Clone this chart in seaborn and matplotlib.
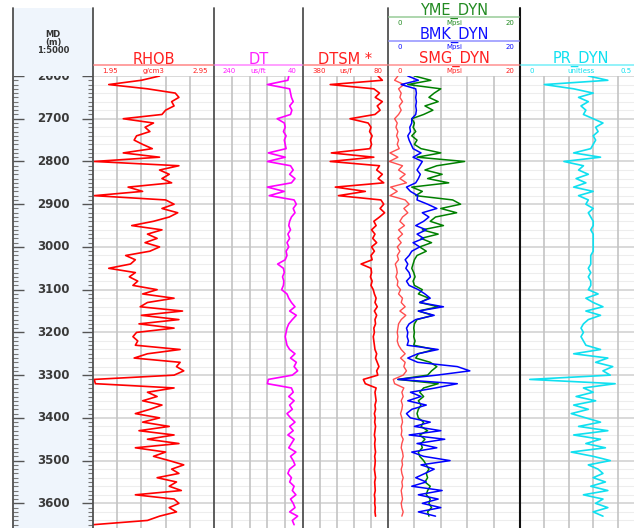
import numpy as np
import pandas as pd
import matplotlib
matplotlib.use("Agg")
import matplotlib.pyplot as plt
import seaborn as sns

sns.set_theme(style="white")
plt.rcParams["font.family"] = ["DejaVu Sans"]

nan = np.nan
depth = np.arange(2600, 3651, 10)

rhob = [2.50, 2.35, 2.08, 2.40, 2.63, 2.66, 2.60, 2.62, 2.55, 2.52,
        2.20, 2.45, 2.38, 2.42, 2.31, 2.29, 2.36, 2.44, 2.20, 2.50,
        1.96, 2.66, 2.50, 2.58, 2.52, 2.60, 2.24, 2.36, 1.96, 2.55,
        2.62, 2.52, 2.65, 2.58, 2.45, 2.27, 2.52, 2.40, 2.48, 2.38,
        2.50, 2.42, 2.22, 2.30, 2.26, 2.08, 2.30, 2.25, 2.32, 2.28,
        2.48, 2.36, 2.62, 2.40, 2.34, 2.69, 2.35, 2.66, 2.33, 2.62,
        2.31, 2.28, 2.32, 2.30, 2.67, 2.40, 2.29, 2.67, 2.64, 2.70,
        2.62, 1.96, 1.97, 2.62, 2.40, 2.48, 2.36, 2.52, 2.42, 2.30,
        2.50, 2.36, 2.58, 2.33, 2.62, 2.40, 2.66, 2.30, 2.55, 2.45,
        2.58, 2.70, 2.60, 2.66, 2.48, 2.64, 2.58, 2.68, 2.30, 2.62,
        2.66, 2.58, 2.64, 2.50, 2.40, 1.95]

dt = [72, 74, 120, 70, 68, 66, 62, 70, 65, 68,
      98, 82, 80, 84, 78, 82, 80, 78, 118, 80,
      120, 68, 62, 70, 58, 66, 120, 82, 116, 60,
      55, 62, 58, 66, 70, 72, 68, 74, 70, 76,
      72, 78, 76, 80, 97, 84, 82, 86, 83, 84,
      88, 76, 72, 66, 58, 70, 55, 64, 72, 76,
      78, 80, 78, 76, 70, 58, 68, 55, 60, 52,
      64, 118, 120, 66, 62, 72, 60, 70, 64, 76,
      68, 58, 70, 62, 74, 60, 66, 72, 56, 68,
      62, 58, 70, 74, 66, 70, 60, 64, 56, 68,
      62, 58, 70, 52, 64, 60]

dtsm = [115, 100, 284, 130, 110, 125, 100, 118, 108, 126,
        214, 150, 140, 145, 136, 142, 138, 144, 280, 130,
        284, 110, 120, 100, 115, 95, 266, 160, 255, 105,
        95, 108, 92, 110, 130, 122, 138, 126, 134, 120,
        138, 128, 140, 136, 175, 140, 138, 142, 136, 140,
        132, 128, 122, 126, 118, 128, 120, 126, 124, 130,
        128, 132, 130, 128, 126, 120, 124, 118, 112, 120,
        116, 167, 160, 122, 126, 124, 122, 126, 124, 128,
        125, 127, 124, 126, 128, 125, 127, 126, 124, 127,
        125, 126, 128, 126, 124, 127, 126, 125, 128, 126,
        127, 125, 126, 124, nan, nan]

smg = [1.5, 1.0, 2.4, 1.6, 2.0, 1.8, 2.2, 1.7, 2.0, 1.6,
       1.0, 1.4, 1.2, 1.5, 1.3, 1.6, 1.4, 1.7, 0.3, 1.5,
       0.2, 2.2, 1.6, 2.6, 1.8, 2.8, 0.4, 1.4, 0.3, 2.6,
       3.2, 2.4, 3.0, 2.2, 1.8, 2.5, 1.6, 2.2, 1.5, 2.0,
       1.4, 1.8, 1.4, 1.6, 1.1, 1.3, 1.4, 1.2, 1.5, 1.4,
       1.9, 1.6, 2.2, 2.0, 2.6, 1.8, 2.7, 2.0, 1.6, 1.5,
       1.4, 1.5, 1.4, 1.6, 2.0, 2.6, 1.9, 2.6, 2.4, 2.8,
       2.3, 0.8, 1.0, 2.4, 2.1, 2.3, 2.0, 2.2, 2.1, 1.9,
       2.1, 2.2, 2.0, 2.1, 2.0, 2.3, 2.1, 2.0, 2.2, 2.3,
       2.1, 2.2, 2.0, 2.1, 2.3, 2.1, 2.2, 2.0, 2.1, 2.2,
       2.0, 2.1, 2.3, 2.1, nan, nan]

bmk = [3.0, 4.6, 2.0, 4.2, 4.3, 4.2, 4.3, 4.2, 4.3, 4.2,
       3.6, 3.6, 3.3, 3.4, 3.0, 3.2, 3.5, 3.8, 5.0, 3.8,
       5.2, 4.8, 4.4, 4.9, 4.6, 4.2, 2.8, 3.4, 4.5, 4.4,
       6.0, 7.4, 5.2, 6.2, 5.4, 4.2, 5.8, 4.4, 5.4, 3.8,
       4.8, 3.6, 3.2, 2.6, 3.0, 2.7, 3.2, 3.4, 2.8, 3.2,
       4.6, 5.6, 6.4, 4.8, 8.4, 4.6, 7.0, 4.2, 3.2, 2.8,
       3.0, 2.9, 3.1, 2.9, 7.6, 4.5, 3.0, 4.5, 10.5, 12.4,
       7.4, 1.5, 10.5, 7.2, 3.4, 5.0, 3.0, 5.8, 3.6, 2.8,
       3.4, 6.4, 4.0, 8.0, 3.2, 8.6, 4.4, 7.4, 3.6, 5.4,
       9.4, 5.0, 7.0, 5.6, 4.2, 5.8, 3.6, 8.2, 4.6, 7.6,
       5.2, 8.0, 4.6, 7.2, nan, nan]

yme = [4.0, 6.5, 3.0, 8.0, 7.0, 6.2, 7.6, 5.6, 6.8, 5.4,
       3.6, 4.0, 3.8, 4.2, 3.6, 4.4, 4.0, 5.0, 8.0, 4.4,
       11.6, 7.4, 5.6, 8.2, 6.0, 9.2, 3.6, 5.2, 4.2, 9.8,
       11.0, 8.0, 10.4, 7.2, 6.4, 8.4, 5.2, 7.6, 5.0, 6.6,
       4.8, 5.8, 4.4, 4.0, 3.8, 3.6, 3.9, 4.1, 3.8, 4.0,
       5.2, 4.6, 6.2, 4.8, 7.6, 4.6, 6.8, 4.4, 4.0, 3.9,
       4.0, 3.9, 4.1, 3.9, 7.0, 4.6, 4.2, 6.4, 7.4, 6.6,
       6.0, 1.5, 7.6, 5.4, 4.8, 5.4, 4.6, 5.0, 4.6, 4.4,
       4.6, 5.4, 5.0, 6.0, 4.8, 5.6, 5.0, 5.2, 4.6, 4.8,
       5.4, 5.8, 6.2, 5.8, 6.0, 5.6, 6.4, 6.0, 5.8, 6.4,
       6.2, 6.6, 6.0, 6.2, nan, nan]

pr = [0.28, 0.36, 0.10, 0.22, 0.30, 0.24, 0.28, 0.25, 0.27, 0.26,
      0.30, 0.34, 0.31, 0.32, 0.30, 0.31, 0.30, 0.29, 0.22, 0.33,
      0.18, 0.26, 0.24, 0.28, 0.23, 0.27, 0.22, 0.30, 0.24, 0.28,
      0.27, 0.30, 0.28, 0.29, 0.30, 0.30, 0.29, 0.30, 0.30, 0.30,
      0.30, 0.30, 0.29, 0.29, 0.29, 0.28, 0.29, 0.28, 0.29, 0.29,
      0.28, 0.32, 0.27, 0.30, 0.34, 0.27, 0.33, 0.28, 0.26, 0.25,
      0.26, 0.25, 0.26, 0.27, 0.33, 0.22, 0.36, 0.31, 0.38, 0.34,
      0.37, 0.04, 0.39, 0.26, 0.30, 0.23, 0.31, 0.22, 0.28, 0.21,
      0.27, 0.33, 0.24, 0.36, 0.22, 0.33, 0.27, 0.35, 0.21, 0.30,
      0.37, 0.28, 0.32, 0.34, 0.30, 0.35, 0.29, 0.36, 0.26, 0.34,
      0.31, 0.36, 0.30, 0.34, nan, nan]

df = pd.DataFrame({"DEPTH": depth, "RHOB": rhob, "DT": dt, "DTSM": dtsm,
                   "SMG": smg, "BMK": bmk, "YME": yme, "PR": pr})

W, H = 634, 528
TOP = 76          # pixel row where tracks start
D_TOP, D_BOT = 2600, 3657.7

fig = plt.figure(figsize=(W / 100, H / 100), dpi=100)
fig.patch.set_facecolor("white")

def px_axes(x0, x1):
    return fig.add_axes([x0 / W, 0, (x1 - x0) / W, (H - TOP) / H])

def style_track(ax, xlim, xgrid):
    ax.set_xlim(*xlim)
    ax.set_ylim(D_BOT, D_TOP)
    ax.set_facecolor("white")
    for d in range(2600, 3660, 20):
        major = d % 100 == 0
        ax.axhline(d, color="#cfcfcf" if major else "#ededed",
                   lw=1.1 if major else 0.8, zorder=0)
    for g in xgrid:
        ax.axvline(g, color="#c4c4c4", lw=1.2, zorder=0)
    ax.set_xticks([]); ax.set_yticks([])
    ax.set_xlabel(""); ax.set_ylabel("")
    for s in ax.spines.values():
        s.set_visible(False)

def curve(ax, col, color, lw=1.2, alpha=1.0):
    sns.lineplot(data=df, x=col, y="DEPTH", orient="y", sort=False,
                 estimator=None, ax=ax, color=color, lw=lw, alpha=alpha)
    ax.set_xlabel(""); ax.set_ylabel("")

# depth track
ax_d = px_axes(13, 93)
ax_d.set_xlim(0, 80); ax_d.set_ylim(D_BOT, D_TOP)
ax_d.set_facecolor("#eff5fc")
ax_d.set_xticks([]); ax_d.set_yticks([])
for s in ax_d.spines.values():
    s.set_visible(False)
for d in range(2600, 3660, 10):
    if d % 100 == 0:
        ax_d.hlines(d, 0, 11, color="#555555", lw=1)
        ax_d.hlines(d, 69, 80, color="#555555", lw=1)
        ax_d.text(40, d, str(d), ha="center", va="center", fontsize=8.5,
                  weight="bold", color="#3a3a3a", clip_on=True)
    else:
        ax_d.hlines(d, 0, 5, color="#777777", lw=0.8)
        ax_d.hlines(d, 75, 80, color="#777777", lw=0.8)

ax_r = px_axes(93, 214)
style_track(ax_r, (1.95, 2.95), [2.15, 2.35, 2.55, 2.75])
curve(ax_r, "RHOB", "#ff0000")

ax_t = px_axes(214, 303)
style_track(ax_t, (240, 40), [200, 160, 120, 80])
curve(ax_t, "DT", "#ff00ff")

ax_s = px_axes(303, 388)
style_track(ax_s, (380, 80), [320, 260, 200, 140])
curve(ax_s, "DTSM", "#ff0000")

ax_m = px_axes(388, 520)
style_track(ax_m, (0, 20), [4, 8, 12, 16])
curve(ax_m, "SMG", "#ff3030", lw=1.0, alpha=0.85)
curve(ax_m, "YME", "#008000", lw=1.1)
curve(ax_m, "BMK", "#0000ff", lw=1.1)

ax_p = px_axes(520, 642)
style_track(ax_p, (0, 0.5), [0.1, 0.2, 0.3, 0.4])
curve(ax_p, "PR", "#10e0f0")

# header / overlay in pixel coordinates
ax_h = fig.add_axes([0, 0, 1, 1], zorder=10)
ax_h.set_xlim(0, W); ax_h.set_ylim(H, 0)
ax_h.axis("off")
ax_h.patch.set_alpha(0)
ax_h.add_patch(plt.Rectangle((13, 8), 80, TOP - 8, color="#eff5fc", lw=0, zorder=0))
for x in [13, 93, 214, 303, 388]:
    ax_h.plot([x, x], [8, H], color="#505050", lw=1.3)
ax_h.plot([520, 520], [8, H], color="#111111", lw=1.5)

ax_h.text(53, 34.5, "MD", ha="center", va="center", fontsize=6, weight="bold", color="#333333")
ax_h.text(53, 42.5, "(m)", ha="center", va="center", fontsize=6, weight="bold", color="#333333")
ax_h.text(53, 50.5, "1:5000", ha="center", va="center", fontsize=6, weight="bold", color="#333333")

def header(x0, x1, y, name, color, lcolor, left, unit, right, rpad=6):
    cx = (x0 + x1) / 2
    ax_h.text(cx, y, name, ha="center", va="center", fontsize=10.5, color=color)
    ax_h.plot([x0 + 1, x1 - 1], [y + 6, y + 6], color=lcolor, lw=1.2)
    ax_h.text(x0 + 9, y + 12, left, ha="left", va="center", fontsize=5, color=color)
    ax_h.text(cx, y + 12, unit, ha="center", va="center", fontsize=5, color=color)
    ax_h.text(x1 - rpad, y + 12, right, ha="right", va="center", fontsize=5, color=color)

header(93, 214, 59, "RHOB", "#ff2020", "#ff9090", "1.95", "g/cm3", "2.95")
header(214, 303, 59, "DT", "#ff20ff", "#ff90ff", "240", "us/ft", "40")
header(303, 388, 59, "DTSM *", "#ff2020", "#ff9090", "380", "us/f", "80")
header(388, 520, 11, "YME_DYN", "#228b22", "#9fd09f", "0", "Mpsi", "20")
header(388, 520, 35, "BMK_DYN", "#1010ff", "#9a9aff", "0", "Mpsi", "20")
header(388, 520, 59, "SMG_DYN", "#ff2020", "#ff9a9a", "0", "Mpsi", "20")
header(520, 642, 59, "PR_DYN", "#10e0f0", "#80f0f8", "0", "unitless", "0.5", rpad=10)

fig.savefig("out.png", dpi=100)
